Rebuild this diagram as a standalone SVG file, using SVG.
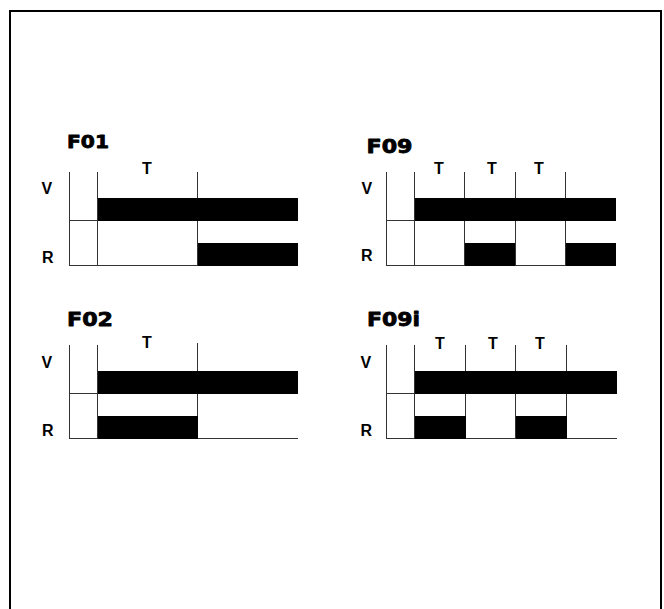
<svg xmlns="http://www.w3.org/2000/svg" width="664" height="609" viewBox="0 0 664 609">
<style>
.frame{fill:none;stroke:#000;stroke-width:2}
.ln{stroke:#333;stroke-width:1;fill:none}
.bar{fill:#000}
.title{font-family:"DejaVu Sans","Liberation Sans",sans-serif;font-weight:bold;fill:#000;stroke:#000;stroke-width:0.8;stroke-linejoin:round}
.lbl{font-family:"Liberation Sans",Arial,sans-serif;font-weight:bold;font-size:16px;fill:#000}
.t{text-anchor:middle}
</style>
<rect width="664" height="609" fill="#fff"/>
<rect class="frame" x="10" y="11" width="651" height="620"/>

<g id="F01">
  <text class="title" x="67" y="148" font-size="18" textLength="42" lengthAdjust="spacingAndGlyphs">F01</text>
  <text class="lbl" x="41.5" y="194">V</text>
  <text class="lbl" x="42" y="262.5">R</text>
  <text class="lbl t" x="147" y="173.5">T</text>
  <path class="ln" d="M69.5 172V266M97.5 172V266M197.5 172V266M69 220.5H98M69 265.5H298"/>
  <rect class="bar" x="98" y="198" width="200" height="23"/>
  <rect class="bar" x="198" y="243" width="100" height="23"/>
</g>

<g id="F09">
  <text class="title" x="366.5" y="152.5" font-size="19.5" textLength="46" lengthAdjust="spacingAndGlyphs">F09</text>
  <text class="lbl" x="361.5" y="193.5">V</text>
  <text class="lbl" x="361" y="261">R</text>
  <text class="lbl t" x="439" y="173.5">T</text>
  <text class="lbl t" x="492" y="173.5">T</text>
  <text class="lbl t" x="539" y="173.5">T</text>
  <path class="ln" d="M386.5 172V266M414.5 172V266M464.5 172V266M515.5 172V266M565.5 172V266M386 220.5H415M386 265.5H616"/>
  <rect class="bar" x="415" y="198" width="201" height="23"/>
  <rect class="bar" x="465" y="243" width="50" height="23"/>
  <rect class="bar" x="566" y="243" width="50" height="23"/>
</g>

<g id="F02">
  <text class="title" x="67" y="325.5" font-size="19.5" textLength="46" lengthAdjust="spacingAndGlyphs">F02</text>
  <text class="lbl" x="41.5" y="367.5">V</text>
  <text class="lbl" x="42" y="435.5">R</text>
  <text class="lbl t" x="147" y="348">T</text>
  <path class="ln" d="M69.5 345V439M97.5 345V439M197.5 343V439M69 393.5H98M69 438.5H298"/>
  <rect class="bar" x="98" y="371" width="200" height="23"/>
  <rect class="bar" x="98" y="416" width="100" height="23"/>
</g>

<g id="F09i">
  <text class="title" x="367" y="325.5" font-size="19.5" textLength="53" lengthAdjust="spacingAndGlyphs">F09i</text>
  <text class="lbl" x="360.5" y="368">V</text>
  <text class="lbl" x="360.5" y="435.5">R</text>
  <text class="lbl t" x="440" y="348.5">T</text>
  <text class="lbl t" x="493" y="348.5">T</text>
  <text class="lbl t" x="540" y="348.5">T</text>
  <path class="ln" d="M386.5 345V439M414.5 345V439M465.5 345V439M515.5 345V439M566.5 345V439M386 393.5H415M386 438.5H617"/>
  <rect class="bar" x="415" y="371" width="202" height="23"/>
  <rect class="bar" x="415" y="416" width="51" height="23"/>
  <rect class="bar" x="516" y="416" width="51" height="23"/>
</g>
</svg>
